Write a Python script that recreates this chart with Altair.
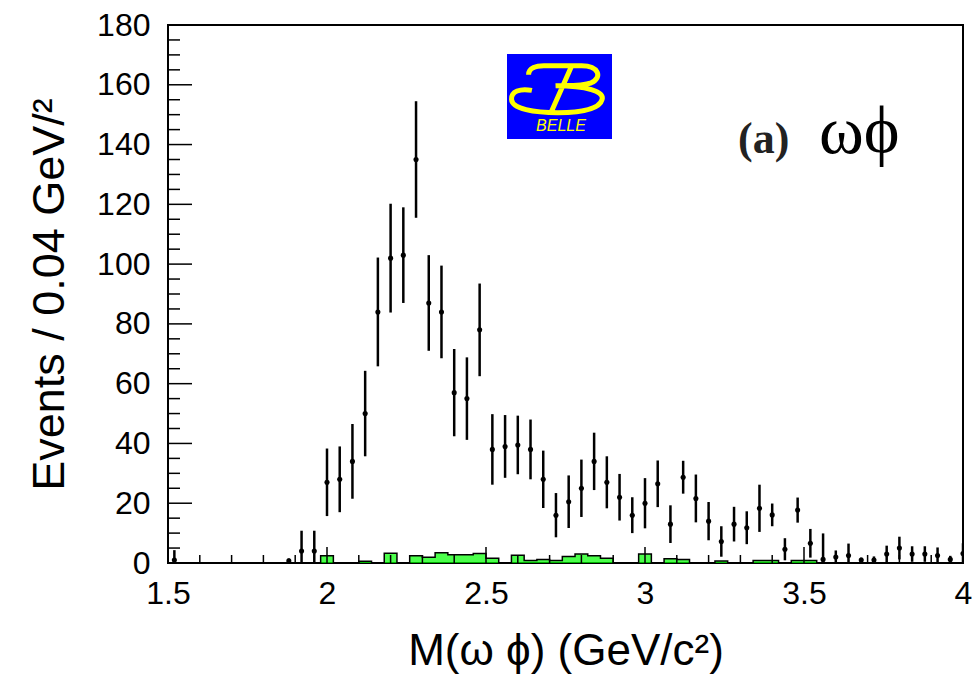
import altair as alt
import numpy as np
import pandas as pd

# omega-phi invariant mass spectrum, 0.04 GeV/c^2 bins (bin centres)
mass = [1.52, 1.88, 1.92, 1.96, 2.00, 2.04, 2.08, 2.12, 2.16, 2.20, 2.24, 2.28,
        2.32, 2.36, 2.40, 2.44, 2.48, 2.52, 2.56, 2.60, 2.64, 2.68, 2.72, 2.76,
        2.80, 2.84, 2.88, 2.92, 2.96, 3.00, 3.04, 3.08, 3.12, 3.16, 3.20, 3.24,
        3.28, 3.32, 3.36, 3.40, 3.44, 3.48, 3.52, 3.56, 3.60, 3.64, 3.68, 3.72,
        3.76, 3.80, 3.84, 3.88, 3.92, 3.96, 4.00]
events = [1.0, 0.7, 4.0, 4.0, 27.0, 28.0, 34.0, 50.0, 84.0, 102.0, 103.0, 135.0,
          87.0, 84.0, 57.0, 55.0, 78.0, 38.0, 39.0, 39.5, 38.0, 28.0, 16.0, 20.5,
          25.0, 34.0, 27.0, 22.0, 16.0, 20.0, 26.5, 13.0, 28.7, 21.6, 14.0, 7.2,
          13.0, 11.8, 18.3, 16.1, 4.6, 17.7, 6.6, 1.2, 2.0, 2.5, 1.0, 1.0,
          3.0, 5.0, 3.0, 3.0, 2.5, 1.2, 3.2]
errors = [3.3, 0.8, 6.8, 6.8, 11.3, 11.0, 12.5, 14.3, 18.2, 18.2, 16.0, 19.5,
          16.0, 15.5, 14.6, 13.8, 15.5, 11.8, 10.5, 9.8, 10.0, 9.6, 7.4, 8.8,
          9.6, 9.6, 8.7, 7.8, 6.0, 8.4, 7.8, 6.3, 5.5, 8.0, 6.4, 5.1,
          5.8, 5.5, 7.9, 3.8, 3.7, 4.2, 4.8, 8.7, 2.2, 4.0, 0.8, 1.2,
          2.8, 3.8, 2.6, 2.6, 2.7, 1.2, 3.4]

# Sideband background estimate (bin centres with non-zero content)
bkg_mass = [2.00, 2.12, 2.20, 2.28, 2.32, 2.36, 2.40, 2.44, 2.48, 2.52, 2.60,
            2.64, 2.68, 2.72, 2.76, 2.80, 2.84, 2.88, 3.00, 3.08, 3.12, 3.24,
            3.36, 3.40, 3.48, 3.52]
bkg_events = [2.4, 0.6, 3.3, 2.4, 1.9, 3.4, 2.8, 2.8, 3.2, 1.6, 2.6,
              0.8, 1.2, 0.8, 2.2, 3.0, 2.4, 1.6, 3.0, 1.4, 1.2, 0.7,
              0.8, 0.8, 0.8, 0.8]

# Axis ticks
x_labels = [1.5, 2.0, 2.5, 3.0, 3.5, 4.0]
x_minor = [1.6, 1.7, 1.8, 1.9, 2.1, 2.2, 2.3, 2.4, 2.6, 2.7, 2.8, 2.9,
           3.1, 3.2, 3.3, 3.4, 3.6, 3.7, 3.8, 3.9]
y_labels = [0, 20, 40, 60, 80, 100, 120, 140, 160, 180]
y_minor = [v for v in range(5, 180, 5) if v % 20 != 0]

W, H = 795, 538
X0, X1, Y0, Y1 = 1.5, 4.0, 0.0, 180.0
SANS = "Liberation Sans"

pts = pd.DataFrame({"m": mass, "n": events, "e": errors})
pts["lo"] = np.clip(pts["n"] - pts["e"], 0, None)
pts["hi"] = pts["n"] + pts["e"]

# full step histogram for the background, drawn from the lower bin edges
edges = np.round(1.50 + 0.04 * np.arange(64), 2)
centres = np.round(edges[:-1] + 0.02, 2)
lookup = dict(zip(np.round(bkg_mass, 2), bkg_events))
bvals = [lookup.get(c, 0.0) for c in centres]
bkg = pd.DataFrame({"m": edges, "n": bvals + [bvals[-1]]})

xs = alt.Scale(domain=[X0, X1], nice=False, zero=False)
ys = alt.Scale(domain=[Y0, Y1], nice=False)

x_axis = alt.Axis(values=x_labels, format="~g", ticks=False, domain=False, grid=False,
                  labelFont=SANS, labelFontSize=32, labelColor="black", labelPadding=15,
                  labelOverlap=False, labelFlush=False,
                  title="M(ω ϕ) (GeV/c²)", titleFont=SANS, titleFontSize=44,
                  titleFontWeight="normal", titleColor="black",
                  titleX=W / 2, titleY=101, titleBaseline="alphabetic", titleAlign="center")
y_axis = alt.Axis(values=y_labels, ticks=False, domain=False, grid=False,
                  labelFont=SANS, labelFontSize=32, labelColor="black", labelPadding=18,
                  labelOverlap=False, labelFlush=False,
                  title="Events / 0.04 GeV/²", titleFont=SANS, titleFontSize=45,
                  titleFontWeight="normal", titleColor="black",
                  titleX=-105, titleY=H / 2, titleAngle=-90,
                  titleBaseline="alphabetic", titleAlign="center")


def X(field):
    return alt.X(field, scale=xs, axis=x_axis)


def Y(field):
    return alt.Y(field, scale=ys, axis=y_axis)


background = alt.Chart(bkg).mark_area(
    interpolate="step-after", color="#00ff00", clip=True,
    line={"color": "black", "strokeWidth": 1.5}
).encode(x=X("m:Q"), y=Y("n:Q"))

bars = alt.Chart(pts).mark_rule(color="black", strokeWidth=2.5, clip=True).encode(
    x=X("m:Q"), y=Y("lo:Q"), y2="hi:Q")

dots = alt.Chart(pts).mark_point(filled=True, color="black", size=26, opacity=1,
                                 shape="circle", clip=True).encode(
    x=X("m:Q"), y=Y("n:Q"))

# inward ticks on the left and bottom frame edges (lengths in pixels)
px_x = (X1 - X0) / W
px_y = (Y1 - Y0) / H


def yticks(vals, length):
    df = pd.DataFrame({"n": vals})
    df["m"] = X0
    df["m2"] = X0 + length * px_x
    return alt.Chart(df).mark_rule(color="black", strokeWidth=1.5).encode(
        x=X("m:Q"), x2="m2:Q", y=Y("n:Q"))


def xticks(vals, length):
    df = pd.DataFrame({"m": vals})
    df["n"] = Y0
    df["n2"] = Y0 + length * px_y
    return alt.Chart(df).mark_rule(color="black", strokeWidth=1.5).encode(
        x=X("m:Q"), y=Y("n:Q"), y2="n2:Q")


one = pd.DataFrame({"k": [0]})

logo_box = alt.Chart(one).mark_rect(color="#0000ff").encode(
    x=alt.value(339), x2=alt.value(444), y=alt.value(29), y2=alt.value(114))

B_PATH = ("M-0.62,-0.3 C-0.62,-0.45 -0.45,-0.49 -0.3,-0.49 L0.5,-0.49 "
          "C0.85,-0.49 0.95,-0.25 0.7,-0.13 C0.5,-0.05 0.1,-0.08 -0.05,-0.07 "
          "C0.6,-0.07 0.98,0.05 0.93,0.22 C0.88,0.42 0.5,0.5 0,0.5 "
          "C-0.5,0.5 -0.97,0.42 -0.98,0.22 C-0.99,0.05 -0.8,-0.02 -0.55,0.03 "
          "M0.29,-0.49 L-0.14,0.48")
logo_b = alt.Chart(one).mark_point(shape=B_PATH, filled=False, stroke="#ffff00",
                                   strokeWidth=5, size=9000, opacity=1).encode(
    x=alt.value(390), y=alt.value(64))

logo_text = alt.Chart(pd.DataFrame({"t": ["BELLE"]})).mark_text(
    font=SANS, fontSize=16, fontStyle="italic", color="#ffff00",
    align="center", baseline="middle").encode(
    text="t:N", x=alt.value(393), y=alt.value(101))

tag = alt.Chart(pd.DataFrame({"t": ["(a)"]})).mark_text(
    font="Liberation Serif", fontSize=44, fontWeight="bold", color="#222222",
    align="left", baseline="alphabetic").encode(
    text="t:N", x=alt.value(570), y=alt.value(128))

channel = alt.Chart(pd.DataFrame({"t": ["ωϕ"]})).mark_text(
    font="Liberation Serif", fontSize=68, color="black",
    align="left", baseline="alphabetic").encode(
    text="t:N", x=alt.value(651), y=alt.value(128))

chart = alt.layer(
    background, bars, dots,
    yticks(y_labels, 24), yticks(y_minor, 12),
    xticks(x_labels, 16), xticks(x_minor, 8),
    logo_box, logo_b, logo_text, tag, channel,
).properties(
    width=W, height=H,
    autosize=alt.AutoSizeParams(type="none"),
    padding={"left": 168, "top": 25, "right": 10, "bottom": 123},
    background="white",
).configure_view(stroke="black", strokeWidth=2)

chart.save("out.html", embed_options={"renderer": "svg", "actions": False})
